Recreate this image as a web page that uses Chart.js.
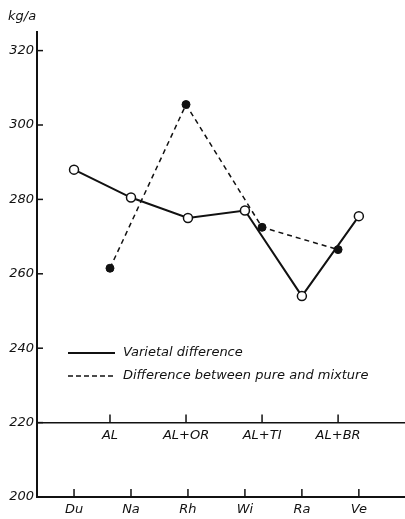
<!DOCTYPE html>
<html>
<head>
<meta charset="utf-8">
<script src="https://cdn.jsdelivr.net/npm/chart.js@4.4.0/dist/chart.umd.min.js"></script>
<style>
  html, body { margin: 0; padding: 0; background: #fff; }
  #wrap { width: 405px; height: 519px; }
</style>
</head>
<body>
<div id="wrap"><canvas id="chart" width="405" height="519"></canvas></div>
<script>
// Data
const varieties = ['Du', 'Na', 'Rh', 'Wi', 'Ra', 'Ve'];
const varietalValues = [288, 280.5, 275, 277, 254, 275.5];

const mixtures = ['AL', 'AL+OR', 'AL+TI', 'AL+BR'];
const mixtureValues = [261.5, 305.5, 272.5, 266.5];

const yTicks = [200, 220, 240, 260, 280, 300, 320];

const legendLabels = ['Varietal difference', 'Difference between pure and mixture'];

const FONT = "'DejaVu Sans', sans-serif";
const INK = '#111';

// small tick marks pointing into the plot, plus the legend and unit label
const decorPlugin = {
    id: 'decor',
    afterDraw(chart) {
        const ctx = chart.ctx;
        const area = chart.chartArea;
        const x = chart.scales.x;
        const x2 = chart.scales.x2;
        const y = chart.scales.y;
        ctx.save();
        ctx.strokeStyle = INK;
        ctx.lineWidth = 1.5;

        yTicks.forEach(v => {
            const py = y.getPixelForValue(v);
            ctx.beginPath();
            ctx.moveTo(area.left, py);
            ctx.lineTo(area.left + 6, py);
            ctx.stroke();
        });

        varieties.forEach((_, i) => {
            const px = x.getPixelForValue(i);
            ctx.beginPath();
            ctx.moveTo(px, area.bottom);
            ctx.lineTo(px, area.bottom - 8);
            ctx.stroke();
        });

        const base = y.getPixelForValue(220);
        mixtures.forEach((_, i) => {
            const px = x2.getPixelForValue(i);
            ctx.beginPath();
            ctx.moveTo(px, base);
            ctx.lineTo(px, base - 8);
            ctx.stroke();
        });

        // unit label
        ctx.fillStyle = INK;
        ctx.font = 'italic 13px ' + FONT;
        ctx.textAlign = 'left';
        ctx.textBaseline = 'middle';
        ctx.fillText('kg/a', 8, 17);

        // legend
        const lx = area.left + 31;
        const rows = [area.top + 321, area.top + 344];
        ctx.lineWidth = 2;
        ctx.beginPath();
        ctx.moveTo(lx, rows[0]);
        ctx.lineTo(lx + 47, rows[0]);
        ctx.stroke();
        ctx.lineWidth = 1.5;
        ctx.setLineDash([5, 3]);
        ctx.beginPath();
        ctx.moveTo(lx, rows[1]);
        ctx.lineTo(lx + 47, rows[1]);
        ctx.stroke();
        ctx.setLineDash([]);
        ctx.fillText(legendLabels[0], lx + 55, rows[0]);
        ctx.fillText(legendLabels[1], lx + 55, rows[1]);
        ctx.restore();
    }
};

new Chart(document.getElementById('chart'), {
    type: 'line',
    data: {
        datasets: [{
            label: legendLabels[0],
            data: varietalValues.map((v, i) => ({ x: i, y: v })),
            xAxisID: 'x',
            borderColor: INK,
            borderWidth: 2,
            pointRadius: 4.5,
            pointBackgroundColor: '#fff',
            pointBorderColor: INK,
            pointBorderWidth: 1.5,
            tension: 0
        }, {
            label: legendLabels[1],
            data: mixtureValues.map((v, i) => ({ x: i, y: v })),
            xAxisID: 'x2',
            borderColor: INK,
            borderWidth: 1.5,
            borderDash: [5, 4],
            pointRadius: 4,
            pointBackgroundColor: INK,
            pointBorderColor: INK,
            pointBorderWidth: 1,
            tension: 0
        }]
    },
    options: {
        responsive: false,
        animation: false,
        layout: { autoPadding: false, padding: { top: 32, right: 0, left: 0, bottom: 0 } },
        plugins: {
            legend: { display: false },
            tooltip: { enabled: false }
        },
        scales: {
            x: {
                type: 'linear',
                position: 'bottom',
                min: -0.65,
                max: 5.81,
                afterBuildTicks: s => { s.ticks = varieties.map((_, i) => ({ value: i })); },
                afterFit: s => { s.height = 22; },
                ticks: {
                    color: INK,
                    font: { family: FONT, size: 13, style: 'italic' },
                    padding: 5,
                    maxRotation: 0,
                    callback: v => varieties[v]
                },
                grid: { display: false, drawTicks: false },
                border: { display: true, color: INK, width: 2 }
            },
            x2: {
                type: 'linear',
                position: { y: 220 },
                min: -0.96,
                max: 3.88,
                afterBuildTicks: s => { s.ticks = mixtures.map((_, i) => ({ value: i })); },
                ticks: {
                    color: INK,
                    font: { family: FONT, size: 13, style: 'italic' },
                    padding: 5,
                    maxRotation: 0,
                    callback: v => mixtures[v]
                },
                grid: { display: false, drawTicks: false },
                border: { display: true, color: INK, width: 1.5 }
            },
            y: {
                type: 'linear',
                min: 200,
                max: 325,
                afterBuildTicks: s => { s.ticks = yTicks.map(v => ({ value: v })); },
                afterFit: s => { s.width = 37; },
                ticks: {
                    color: INK,
                    font: { family: FONT, size: 13, style: 'italic' },
                    padding: 3
                },
                grid: { display: false, drawTicks: false },
                border: { display: true, color: INK, width: 2 }
            }
        }
    },
    plugins: [decorPlugin]
});
</script>
</body>
</html>
